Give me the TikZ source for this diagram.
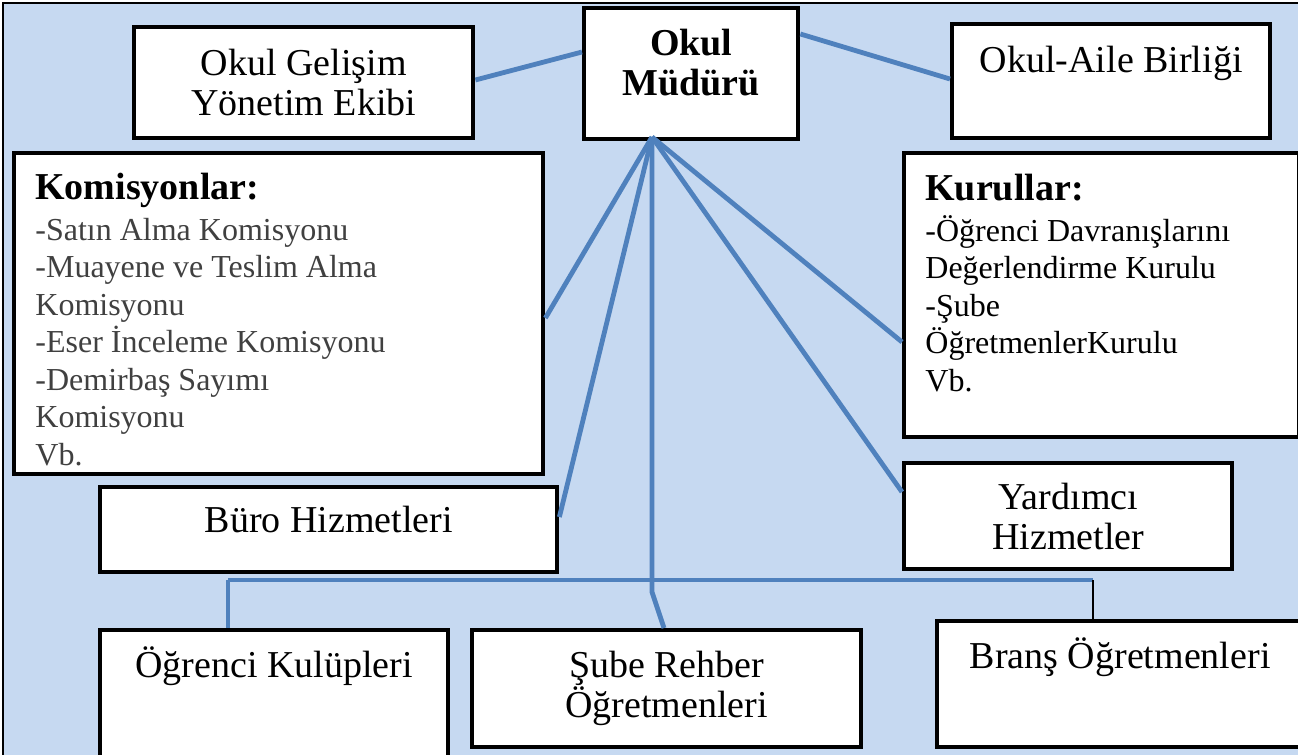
\documentclass[tikz,border=0pt]{standalone}
\usepackage{fontspec}
\setmainfont{Liberation Serif}
\usepackage{xcolor}
\usetikzlibrary{positioning}
\definecolor{panelblue}{HTML}{C6D9F1}
\definecolor{linkblue}{HTML}{4F81BD}
\definecolor{itemgray}{HTML}{404040}
\tikzset{
    org-box/.style = {draw=black, fill=white, line width=2.2pt, rectangle, inner sep=0pt, anchor=north west},
    big-text/.style = {font=\fontsize{19}{20}\selectfont, align=center},
    list-text/.style = {font=\fontsize{16}{18.75}\selectfont, align=left, inner sep=0pt, anchor=north west},
    link/.style = {draw=linkblue, line width=2.4pt},
}

\begin{document}
\begin{tikzpicture}[x=0.5pt,y=-0.5pt]
\useasboundingbox (0,0) rectangle (1298,755);
\fill[panelblue] (3,3) rectangle (1302,759);
\draw[line width=1pt] (3,759) -- (3,3) -- (1302,3);

% top row
\node[org-box, minimum width=107pt, minimum height=65.5pt] (mudur) at (582,6) {};
\node[big-text, font=\fontsize{19}{20}\selectfont\bfseries, below=8pt of mudur.north] (mudur-text) {Okul\\Müdürü};
\node[org-box, big-text, minimum width=169.5pt, minimum height=55.5pt] (ogye) at (132,25) {Okul Gelişim\\Yönetim Ekibi};
\node[org-box, minimum width=159pt, minimum height=57pt] (oab) at (950,22) {};
\node[big-text, below=8.5pt of oab.north] (oab-text) {Okul-Aile Birliği};

% list boxes
\node[org-box, minimum width=264.5pt, minimum height=160.5pt] (kom) at (12,151) {};
\node[list-text, color=itemgray] (kom-text) at (35,173)
    {{\fontsize{19}{20}\selectfont\bfseries\color{black}Komisyonlar:}\\[1.5pt]
     -Satın Alma Komisyonu\\ -Muayene ve Teslim Alma\\ Komisyonu\\
     -Eser İnceleme Komisyonu\\ -Demirbaş Sayımı\\ Komisyonu\\ Vb.};
\node[org-box, minimum width=197.5pt, minimum height=142pt] (kur) at (902,151) {};
\node[list-text] (kur-text) at (925,174)
    {{\fontsize{19}{20}\selectfont\bfseries Kurullar:}\\[1.5pt]
     -Öğrenci Davranışlarını\\ Değerlendirme Kurulu\\ -Şube\\
     ÖğretmenlerKurulu\\ Vb.};

% services
\node[org-box, big-text, minimum width=228.5pt, minimum height=42.5pt, text depth=10pt] (buro) at (98,485) {Büro Hizmetleri};
\node[org-box, big-text, minimum width=164pt, minimum height=53pt] (yard) at (902,461) {Yardımcı\\Hizmetler};

% bottom row
\node[org-box, minimum width=174pt, minimum height=70pt] (ogr) at (98,628) {};
\node[big-text, below=6pt of ogr.north] (ogr-text) {Öğrenci Kulüpleri};
\node[org-box, big-text, minimum width=194.5pt, minimum height=58.5pt] (sube) at (470,628) {Şube Rehber\\Öğretmenleri};
\node[org-box, minimum width=183pt, minimum height=63pt] (brans) at (935,619) {};
\node[big-text, below=6pt of brans.north] (brans-text) {Branş Öğretmenleri};

% connectors
\coordinate (hub) at (652,137);
\coordinate (bar-left) at (228,580);
\coordinate (bar-right) at (1093,580);
\coordinate (bend) at (652,592);
\draw[link] (ogye.east |- 0,80) -- (mudur.west |- 0,52);
\draw[link] (mudur.east |- 0,34) -- (oab.west |- 0,79);
\draw[link] (hub) -- (kom.east |- 0,318);
\draw[link] (hub) -- (buro.east |- 0,517);
\draw[link] (hub) -- (kur.west |- 0,342);
\draw[link] (hub) -- (yard.west |- 0,492);
\draw[link] (hub) -- (bend) -- (sube.north -| 664,0);
\draw[link] (bar-left) -- (bar-right);
\draw[link] (bar-left) -- (ogr.north -| bar-left);
\draw[line width=0.8pt] (bar-right) -- (brans.north -| bar-right);
\end{tikzpicture}
\end{document}
